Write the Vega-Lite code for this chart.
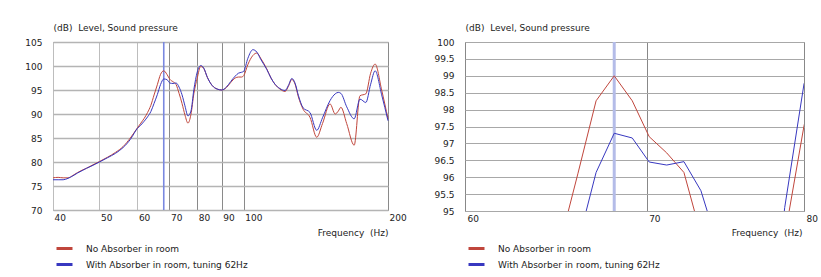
{
  "$schema": "https://vega.github.io/schema/vega-lite/v6.json",
  "background": "white",
  "padding": {"left": 24, "top": 22, "right": 5, "bottom": 5},
  "bounds": "flush",
  "spacing": 77,
  "config": {
    "font": "DejaVu Sans",
    "view": {"stroke": "#9a9a9a", "strokeWidth": 1},
    "axis": {"labelFont": "DejaVu Sans", "labelFontSize": 9, "labelColor": "#222", "titleFont": "DejaVu Sans", "titleFontSize": 9, "titleFontWeight": "normal", "titleColor": "#222", "domain": false, "ticks": false, "gridColor": "#aaaaaa", "gridOpacity": 1},
    "legend": {"labelFont": "DejaVu Sans", "labelFontSize": 9, "labelColor": "#222", "labelLimit": 0}
  },
  "datasets": {
    "curves": [
      {"freq": 40, "no_absorber": 76.7, "with_absorber": 76.3},
      {"freq": 41, "no_absorber": 76.8, "with_absorber": 76.3},
      {"freq": 42, "no_absorber": 76.7, "with_absorber": 76.3},
      {"freq": 43, "no_absorber": 76.7, "with_absorber": 76.6},
      {"freq": 44, "no_absorber": 77.2, "with_absorber": 77.1},
      {"freq": 45, "no_absorber": 77.8, "with_absorber": 77.7},
      {"freq": 46, "no_absorber": 78.3, "with_absorber": 78.2},
      {"freq": 47, "no_absorber": 78.7, "with_absorber": 78.7},
      {"freq": 48, "no_absorber": 79.2, "with_absorber": 79.1},
      {"freq": 50, "no_absorber": 80.1, "with_absorber": 80.0},
      {"freq": 52, "no_absorber": 81.0, "with_absorber": 80.9},
      {"freq": 54, "no_absorber": 82.0, "with_absorber": 81.8},
      {"freq": 56, "no_absorber": 83.2, "with_absorber": 83.0},
      {"freq": 58, "no_absorber": 85.0, "with_absorber": 84.7},
      {"freq": 60, "no_absorber": 87.1, "with_absorber": 87.0},
      {"freq": 61, "no_absorber": 88.1, "with_absorber": 87.7},
      {"freq": 62, "no_absorber": 89.1, "with_absorber": 88.5},
      {"freq": 63, "no_absorber": 90.3, "with_absorber": 89.4},
      {"freq": 64, "no_absorber": 91.8, "with_absorber": 90.5},
      {"freq": 65, "no_absorber": 93.96, "with_absorber": 92.2},
      {"freq": 66.03, "no_absorber": 96.1, "with_absorber": 94.04},
      {"freq": 67.06, "no_absorber": 98.26, "with_absorber": 96.14},
      {"freq": 68.1, "no_absorber": 99.0, "with_absorber": 97.3},
      {"freq": 69.15, "no_absorber": 98.26, "with_absorber": 97.16},
      {"freq": 70.15, "no_absorber": 97.2, "with_absorber": 96.45},
      {"freq": 71.2, "no_absorber": 96.72, "with_absorber": 96.36},
      {"freq": 72.25, "no_absorber": 96.14, "with_absorber": 96.46},
      {"freq": 73.3, "no_absorber": 94.3, "with_absorber": 95.6},
      {"freq": 74.35, "no_absorber": 92.2, "with_absorber": 94.0},
      {"freq": 75.4, "no_absorber": 89.8, "with_absorber": 91.7},
      {"freq": 76.5, "no_absorber": 88.1, "with_absorber": 89.6},
      {"freq": 77.6, "no_absorber": 89.9, "with_absorber": 90.6},
      {"freq": 78.7, "no_absorber": 94.24, "with_absorber": 95.1},
      {"freq": 80.0, "no_absorber": 97.52, "with_absorber": 98.76},
      {"freq": 81.3, "no_absorber": 99.9, "with_absorber": 100.1},
      {"freq": 82.5, "no_absorber": 99.5, "with_absorber": 99.6},
      {"freq": 84, "no_absorber": 97.6, "with_absorber": 97.6},
      {"freq": 86, "no_absorber": 95.9, "with_absorber": 95.9},
      {"freq": 88, "no_absorber": 95.2, "with_absorber": 95.2},
      {"freq": 90, "no_absorber": 95.0, "with_absorber": 95.0},
      {"freq": 92, "no_absorber": 95.5, "with_absorber": 95.6},
      {"freq": 94, "no_absorber": 96.6, "with_absorber": 96.8},
      {"freq": 96, "no_absorber": 97.5, "with_absorber": 97.9},
      {"freq": 97.5, "no_absorber": 97.7, "with_absorber": 98.5},
      {"freq": 99, "no_absorber": 97.7, "with_absorber": 98.7},
      {"freq": 100, "no_absorber": 98.0, "with_absorber": 98.9},
      {"freq": 102, "no_absorber": 100.3, "with_absorber": 101.6},
      {"freq": 104.5, "no_absorber": 102.2, "with_absorber": 103.4},
      {"freq": 106.5, "no_absorber": 102.7, "with_absorber": 102.9},
      {"freq": 108.5, "no_absorber": 101.6, "with_absorber": 101.4},
      {"freq": 111.7, "no_absorber": 99.4, "with_absorber": 99.3},
      {"freq": 114, "no_absorber": 97.5, "with_absorber": 97.5},
      {"freq": 116.2, "no_absorber": 96.2, "with_absorber": 96.2},
      {"freq": 119, "no_absorber": 95.2, "with_absorber": 95.3},
      {"freq": 122, "no_absorber": 94.7, "with_absorber": 94.9},
      {"freq": 124, "no_absorber": 95.8, "with_absorber": 96.0},
      {"freq": 126, "no_absorber": 97.2, "with_absorber": 97.4},
      {"freq": 128, "no_absorber": 96.2, "with_absorber": 96.4},
      {"freq": 130, "no_absorber": 93.6, "with_absorber": 93.9},
      {"freq": 133, "no_absorber": 91.0, "with_absorber": 91.3},
      {"freq": 137.5, "no_absorber": 89.3, "with_absorber": 90.3},
      {"freq": 142, "no_absorber": 85.15, "with_absorber": 86.6},
      {"freq": 146, "no_absorber": 88.0, "with_absorber": 89.2},
      {"freq": 151.4, "no_absorber": 92.1, "with_absorber": 92.8},
      {"freq": 155.2, "no_absorber": 90.0, "with_absorber": 94.2},
      {"freq": 157.5, "no_absorber": 90.6, "with_absorber": 94.5},
      {"freq": 159.5, "no_absorber": 91.4, "with_absorber": 94.3},
      {"freq": 164, "no_absorber": 88.0, "with_absorber": 91.5},
      {"freq": 170, "no_absorber": 83.5, "with_absorber": 89.0},
      {"freq": 174.8, "no_absorber": 93.8, "with_absorber": 93.1},
      {"freq": 179.8, "no_absorber": 94.2, "with_absorber": 92.4},
      {"freq": 184, "no_absorber": 98.5, "with_absorber": 96.2},
      {"freq": 188, "no_absorber": 100.4, "with_absorber": 99.0},
      {"freq": 194, "no_absorber": 95.0, "with_absorber": 94.0},
      {"freq": 200, "no_absorber": 89.0, "with_absorber": 88.6}
    ],
    "marker": [{"freq": 68.1}]
  },
  "resolve": {"scale": {"x": "independent", "y": "independent", "color": "independent"}, "legend": {"color": "independent"}},
  "hconcat": [
    {
      "width": 335,
      "height": 168,
      "layer": [
        {
          "data": {"name": "marker"},
          "mark": {"type": "rule", "color": "#7a88e0", "strokeWidth": 1.6},
          "encoding": {"x": {"field": "freq", "type": "quantitative"}}
        },
        {
          "data": {"name": "curves"},
          "transform": [{"fold": ["no_absorber", "with_absorber"], "as": ["series", "level"]}],
          "mark": {"type": "line", "interpolate": "monotone", "strokeWidth": 1},
          "encoding": {
            "x": {"field": "freq", "type": "quantitative",
              "scale": {"type": "log", "domain": [40, 200], "nice": false},
              "axis": {"values": [40, 50, 60, 70, 80, 90, 100, 200], "grid": true,
                "gridColor": {"condition": {"test": "datum.value <= 60", "value": "#bdbdbd"}, "value": "#8a8a8a"},
                "labelAlign": "left", "labelPadding": 3, "labelOffset": 1,
                "title": "Frequency\u00a0\u00a0(Hz)", "titleAnchor": "end", "titleAlign": "right", "titleX": 335, "titleY": 25, "titleBaseline": "alphabetic"}},
            "y": {"field": "level", "type": "quantitative",
              "scale": {"domain": [70, 105], "nice": false, "zero": false},
              "axis": {"values": [70, 75, 80, 85, 90, 95, 100, 105], "grid": true, "gridWidth": 1.5, "gridColor": "#b4b4b4", "labelPadding": 11,
                "title": "(dB)\u00a0\u00a0Level, Sound pressure", "titleAngle": 0, "titleAlign": "left", "titleX": 0, "titleY": -12, "titleBaseline": "alphabetic"}},
            "color": {"field": "series", "type": "nominal",
              "scale": {"domain": ["no_absorber", "with_absorber"], "range": ["#c0463c", "#3838c0"]},
              "legend": {"orient": "none", "legendX": 2, "legendY": 197, "direction": "vertical", "title": null, "symbolType": "stroke", "symbolStrokeWidth": 3, "symbolSize": 256, "labelOffset": 12, "rowPadding": 0, "padding": 0, "labelLimit": 0,
                "labelExpr": "datum.label == 'no_absorber' ? 'No Absorber in room' : 'With Absorber in room, tuning 62Hz'"}}
          }
        }
      ]
    },
    {
      "width": 339,
      "height": 169,
      "layer": [
        {
          "data": {"name": "marker"},
          "mark": {"type": "rule", "color": "#b4bce8", "strokeWidth": 3},
          "encoding": {"x": {"field": "freq", "type": "quantitative"}}
        },
        {
          "data": {"name": "curves"},
          "transform": [{"fold": ["no_absorber", "with_absorber"], "as": ["series", "level"]}],
          "mark": {"type": "line", "interpolate": "linear", "strokeWidth": 1, "clip": true},
          "encoding": {
            "x": {"field": "freq", "type": "quantitative",
              "scale": {"type": "log", "domain": [60, 80], "nice": false},
              "axis": {"values": [60, 70, 80], "grid": true, "gridColor": "#888888", "labelAlign": "left", "labelPadding": 3, "labelOffset": 2,
                "title": "Frequency\u00a0\u00a0(Hz)", "titleAnchor": "end", "titleAlign": "right", "titleX": 337, "titleY": 24, "titleBaseline": "alphabetic"}},
            "y": {"field": "level", "type": "quantitative",
              "scale": {"domain": [95, 100], "nice": false, "zero": false},
              "axis": {"values": [95, 95.5, 96, 96.5, 97, 97.5, 98, 98.5, 99, 99.5, 100], "format": "~f", "grid": true, "gridColor": "#a8a8a8", "labelPadding": 11,
                "title": "(dB)\u00a0\u00a0Level, Sound pressure", "titleAngle": 0, "titleAlign": "left", "titleX": 0, "titleY": -12, "titleBaseline": "alphabetic"}},
            "color": {"field": "series", "type": "nominal",
              "scale": {"domain": ["no_absorber", "with_absorber"], "range": ["#c0463c", "#3838c0"]},
              "legend": {"orient": "none", "legendX": 2, "legendY": 197, "direction": "vertical", "title": null, "symbolType": "stroke", "symbolStrokeWidth": 3, "symbolSize": 256, "labelOffset": 12, "rowPadding": 0, "padding": 0, "labelLimit": 0,
                "labelExpr": "datum.label == 'no_absorber' ? 'No Absorber in room' : 'With Absorber in room, tuning 62Hz'"}}
          }
        }
      ]
    }
  ]
}
